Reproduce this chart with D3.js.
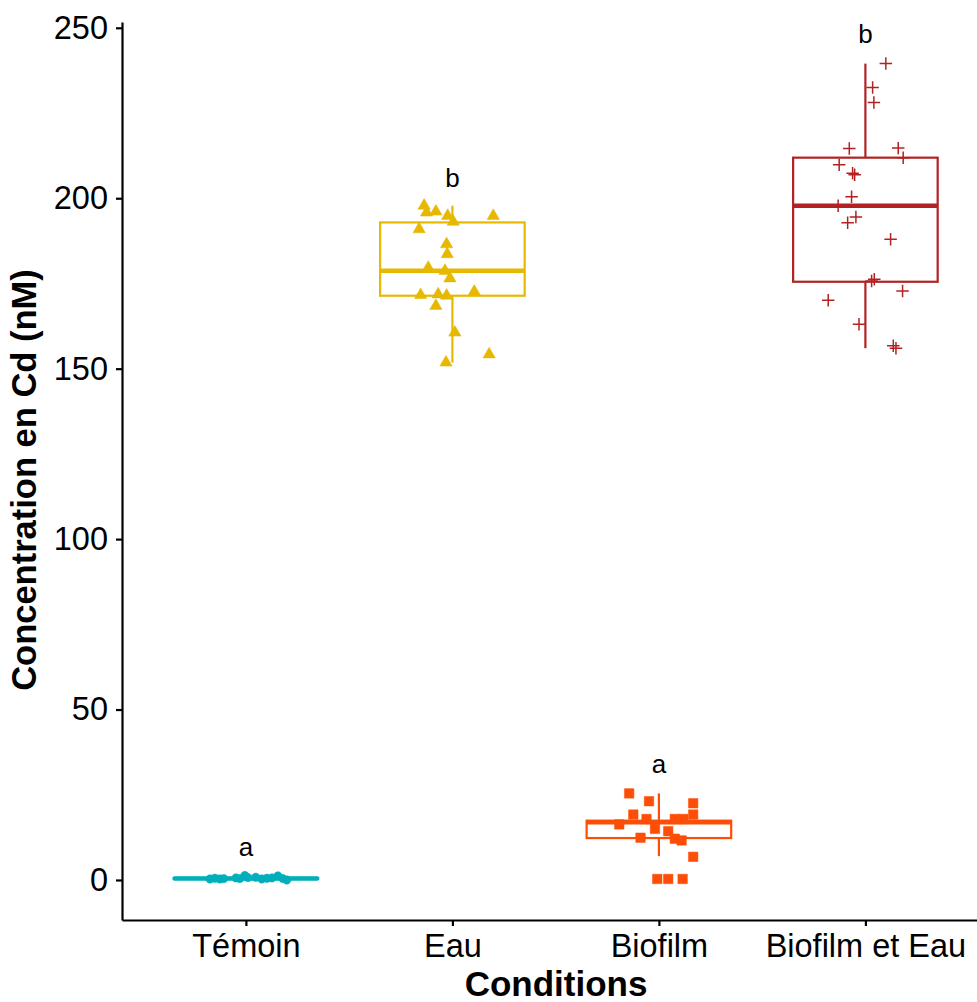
<!DOCTYPE html>
<html>
<head>
<meta charset="utf-8">
<script src="https://cdn.jsdelivr.net/npm/d3@7"></script>
<style>
  body { margin: 0; background: #fff; }
  svg { display: block; font-family: "Liberation Sans", Arial, sans-serif; }
</style>
</head>
<body>
<script>
const width = 977;
const height = 1002;

const categories = ["Témoin", "Eau", "Biofilm", "Biofilm et Eau"];
const groupLetters = ["a", "b", "a", "b"];
const letterY = [7.0, 203.3, 31.3, 245.5];
const yTicks = [0, 50, 100, 150, 200, 250];

// box statistics per condition
const whiskerLow = [0.0, 151.8, 7.0, 156.0];
const q1 = [0.3, 171.4, 12.3, 175.5];
const median = [0.45, 178.7, 16.9, 197.8];
const q3 = [0.6, 192.9, 17.4, 211.9];
const whiskerHigh = [1.3, 197.8, 25.4, 239.5];

// raw values with the horizontal jitter (category units)
const temoinValues = [0.3, 0.5, 0.3, 0.4, 0.6, 0.4, 1.3, 0.7, 0.8, 0.3, 0.5, 0.6, 1.2, 0.4, 0.0];
const temoinJitter = [-0.174, -0.150, -0.126, -0.107, -0.048, -0.029, -0.005, 0.010, 0.048, 0.077, 0.102, 0.126, 0.155, 0.179, 0.198];

const eauValues = [197.8, 195.8, 196.1, 194.8, 193.1, 194.8, 190.9, 186.5, 183.6, 179.6, 178.7, 176.5, 171.6, 171.8, 171.4, 172.6, 168.4, 160.6, 154.2, 151.8];
const eauJitter = [-0.137, -0.125, -0.080, -0.023, 0.004, 0.198, -0.161, -0.028, -0.025, -0.117, -0.036, -0.012, -0.154, -0.069, -0.028, 0.106, -0.080, 0.012, 0.178, -0.031];

const biofilmValues = [25.4, 23.1, 22.5, 19.2, 19.2, 17.9, 17.9, 17.9, 16.3, 15.0, 14.3, 12.4, 12.1, 11.6, 6.8, 0.3, 0.3, 0.3];
const biofilmJitter = [-0.144, -0.048, 0.166, -0.124, 0.166, -0.060, 0.077, 0.118, -0.192, -0.019, 0.045, -0.089, 0.077, 0.110, 0.166, -0.008, 0.045, 0.115];

const mixValues = [239.5, 232.5, 228.1, 214.6, 214.7, 211.9, 209.8, 207.3, 206.9, 200.4, 197.8, 194.5, 192.8, 188.0, 176.2, 175.7, 172.8, 170.1, 163.0, 156.7, 156.0];
const mixJitter = [0.099, 0.035, 0.041, -0.078, 0.159, 0.183, -0.127, -0.062, -0.052, -0.067, -0.132, -0.046, -0.086, 0.122, 0.043, 0.030, 0.180, -0.180, -0.031, 0.135, 0.148];

const colors = ["#00AFBB", "#E7B800", "#FC4E07", "#B22222"];

const plotLeft = 122;
const plotBottom = 920;
const plotTop = 22;
const step = 206.5;
const boxWidth = 0.7;

let svg = d3.select('body')
            .append('svg')
            .attr('width', width)
            .attr('height', height);

// discrete axis: positions 1..4 with 0.6 expansion either side
let xScale = d3.scaleLinear()
               .domain([0.4, 4.6])
               .range([plotLeft, plotLeft + 4.2 * step]);

let yScale = d3.scaleLinear()
               .domain([-11.74, 251.7])
               .range([plotBottom, plotTop]);

// thin "+" glyph like ggplot shape 3
const plusSymbol = {
    draw(context, size) {
        const r = Math.sqrt(size) / 2;
        context.moveTo(-r, 0);
        context.lineTo(r, 0);
        context.moveTo(0, -r);
        context.lineTo(0, r);
    }
};

const groups = [
    {values: temoinValues, jitter: temoinJitter, shape: d3.symbolCircle, size: 55, plus: false},
    {values: eauValues, jitter: eauJitter, shape: d3.symbolTriangle, size: 66, plus: false},
    {values: biofilmValues, jitter: biofilmJitter, shape: d3.symbolSquare, size: 90, plus: false},
    {values: mixValues, jitter: mixJitter, shape: plusSymbol, size: 156, plus: true}
];

// boxes
categories.forEach((cat, i) => {
    const pos = i + 1;
    const g = svg.append('g').attr('class', 'box');
    const col = colors[i];
    g.append('line')
     .attr('x1', xScale(pos)).attr('x2', xScale(pos))
     .attr('y1', yScale(whiskerHigh[i])).attr('y2', yScale(q3[i]))
     .attr('stroke', col).attr('stroke-width', 2.2);
    g.append('line')
     .attr('x1', xScale(pos)).attr('x2', xScale(pos))
     .attr('y1', yScale(q1[i])).attr('y2', yScale(whiskerLow[i]))
     .attr('stroke', col).attr('stroke-width', 2.2);
    g.append('rect')
     .attr('x', xScale(pos - boxWidth / 2))
     .attr('width', xScale(pos + boxWidth / 2) - xScale(pos - boxWidth / 2))
     .attr('y', yScale(q3[i]))
     .attr('height', Math.max(0.5, yScale(q1[i]) - yScale(q3[i])))
     .attr('fill', 'none')
     .attr('stroke', col).attr('stroke-width', 2.2);
    g.append('line')
     .attr('x1', xScale(pos - boxWidth / 2)).attr('x2', xScale(pos + boxWidth / 2))
     .attr('y1', yScale(median[i])).attr('y2', yScale(median[i]))
     .attr('stroke', col).attr('stroke-width', 4.5);
});

// jittered points
groups.forEach((grp, i) => {
    const pos = i + 1;
    const sym = d3.symbol().type(grp.shape).size(grp.size);
    svg.append('g')
       .selectAll('path')
       .data(grp.values)
       .enter()
       .append('path')
       .attr('d', sym)
       .attr('transform', (d, j) => `translate(${xScale(pos + grp.jitter[j])}, ${yScale(d)})`)
       .attr('fill', grp.plus ? 'none' : colors[i])
       .attr('stroke', colors[i])
       .attr('stroke-width', grp.plus ? 1.5 : 0.5);
});

// group letters
svg.selectAll('text.letter')
   .data(groupLetters)
   .enter()
   .append('text')
   .attr('class', 'letter')
   .attr('x', (d, i) => xScale(i + 1))
   .attr('y', (d, i) => yScale(letterY[i]))
   .attr('text-anchor', 'middle')
   .attr('font-size', 26)
   .attr('fill', '#000')
   .text(d => d);

// axes
let xAxis = d3.axisBottom(xScale)
              .tickValues([1, 2, 3, 4])
              .tickFormat(d => categories[d - 1])
              .tickSizeInner(6)
              .tickSizeOuter(0)
              .tickPadding(7.5);
let xg = svg.append('g')
            .attr('id', 'x-axis')
            .attr('transform', `translate(0, ${plotBottom})`)
            .call(xAxis);

let yAxis = d3.axisLeft(yScale)
              .tickValues(yTicks)
              .tickSizeInner(6)
              .tickSizeOuter(0)
              .tickPadding(8);
let yg = svg.append('g')
            .attr('id', 'y-axis')
            .attr('transform', `translate(${plotLeft}, 0)`)
            .call(yAxis);

[xg, yg].forEach(g => {
    g.select('.domain').attr('stroke', '#000').attr('stroke-width', 2.2);
    g.selectAll('.tick line').attr('stroke', '#000').attr('stroke-width', 2.2);
    g.selectAll('.tick text')
     .attr('fill', '#000')
     .attr('font-size', 32.5)
     .attr('font-family', '"Liberation Sans", Arial, sans-serif');
});

svg.append('text')
   .attr('x', 556)
   .attr('y', 996)
   .attr('text-anchor', 'middle')
   .attr('font-size', 35)
   .attr('font-weight', 'bold')
   .text('Conditions');

svg.append('text')
   .attr('transform', 'translate(36, 480) rotate(-90)')
   .attr('text-anchor', 'middle')
   .attr('font-size', 34.5)
   .attr('font-weight', 'bold')
   .text('Concentration en Cd (nM)');
</script>
</body>
</html>
